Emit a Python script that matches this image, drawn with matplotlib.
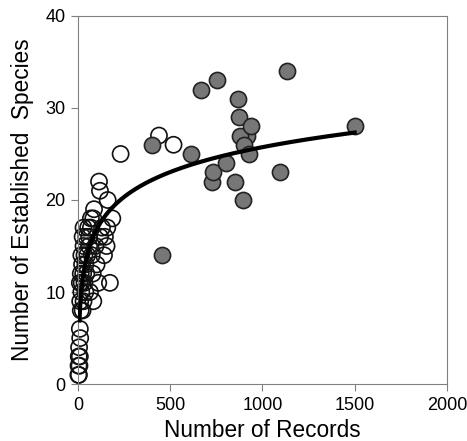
import matplotlib
matplotlib.use('Agg')
import matplotlib.pyplot as plt
import numpy as np

# open circles: low-record regions
open_x = [2, 5, 3, 8, 4, 10, 6, 12, 10,
          15, 25, 12, 30, 18, 40, 10, 20, 35, 15, 28, 45, 22, 40, 18, 35, 50,
          30, 60, 25, 45, 30, 55, 60, 70,
          83, 65, 110, 173, 101, 141, 155, 146, 159, 83, 186, 87, 161, 119,
          114, 231, 439, 518, 95, 80, 130, 120, 70, 75]
open_y = [1, 1, 2, 2, 3, 3, 4, 5, 6,
          8, 8, 9, 9, 10, 10, 11, 11, 11, 12, 12, 12, 13, 13, 14, 14, 14,
          15, 15, 16, 16, 17, 17, 16, 17,
          9, 10, 11, 11, 13, 14, 15, 16, 17, 18, 18, 19, 20, 21,
          22, 25, 27, 26, 15, 12, 17, 16, 18, 14]

# filled circles: high-record regions
fill_x = [400, 457, 612, 666, 755, 729, 733, 805, 852, 868,
          874, 915, 877, 895, 900, 940, 926, 1094, 1132, 1503]
fill_y = [26, 14, 25, 32, 33, 22, 23, 24, 22, 31,
          29, 27, 27, 20, 26, 28, 25, 23, 34, 28]

# logarithmic fit y = a + b*ln(x)
fit_a = -1.2
fit_b = 3.9
fit_xmin, fit_xmax = 8, 1500


def main():
    plt.rcParams['font.family'] = ['Liberation Sans', 'DejaVu Sans']
    fig = plt.figure(figsize=(4.67, 4.41), dpi=100)
    ax = fig.add_axes([0.167, 0.129, 0.79, 0.835])

    ax.scatter(open_x, open_y, s=135, facecolors='none', edgecolors='#111111',
               linewidths=1.2, zorder=2, clip_on=False)
    ax.scatter(fill_x, fill_y, s=135, facecolors='#777777', edgecolors='#222222',
               linewidths=1.2, zorder=3, clip_on=False)

    xs = np.linspace(fit_xmin, fit_xmax, 400)
    ax.plot(xs, fit_a + fit_b * np.log(xs), color='black', lw=3, zorder=4)

    ax.set_xlim(0, 2000)
    ax.set_ylim(0, 40)
    ax.set_xticks([0, 500, 1000, 1500, 2000])
    ax.set_yticks([0, 10, 20, 30, 40])
    for sp in ax.spines.values():
        sp.set_color('#808080')
    ax.tick_params(direction='out', length=5, color='#808080', labelsize=13,
                   pad=4)
    ax.set_xlabel('Number of Records', fontsize=16.3, labelpad=4)
    ax.set_ylabel('Number of Established  Species', fontsize=16.3, labelpad=8)

    fig.savefig('out.png', dpi=100)


if __name__ == '__main__':
    main()
